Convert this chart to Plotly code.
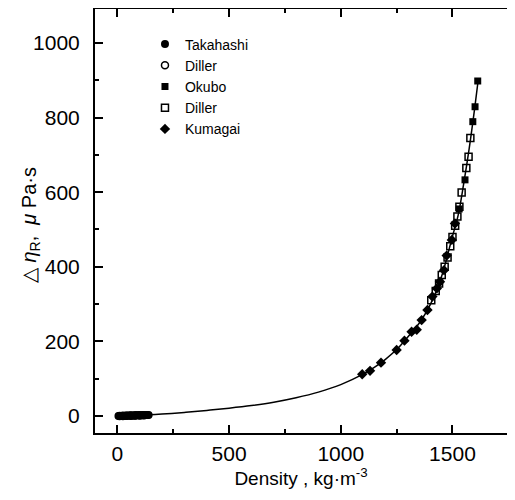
import plotly.graph_objects as go

# Correlation curve
curve_density = [0, 100, 200, 300, 400, 500, 600, 700, 800, 900, 1000, 1100, 1150, 1200, 1250,
                 1300, 1350, 1400, 1450, 1500, 1525, 1550, 1575, 1600, 1615]
curve_eta = [0, 1.5, 5, 9.5, 15, 21, 28, 37, 49, 64, 84, 112, 130, 152, 178,
             212, 248, 298, 372, 482, 537, 622, 718, 828, 900]

takahashi_density = [5, 10, 15, 20, 25, 30, 35, 40, 45, 50, 55, 60, 65, 70, 75, 80, 85, 90, 95,
                     100, 105, 110, 115, 120, 125, 130, 135, 140]
takahashi_eta = [0.1, 0.2, 0.3, 0.4, 0.5, 0.6, 0.7, 0.8, 0.9, 1.0, 1.1, 1.2, 1.3, 1.4, 1.5, 1.6, 1.7, 1.8, 1.9,
                 2.0, 2.1, 2.2, 2.3, 2.4, 2.5, 2.6, 2.7, 2.8]

diller1_density = [10, 25, 40, 60, 80, 100, 120]
diller1_eta = [0.1, 0.3, 0.5, 0.8, 1.1, 1.4, 1.8]

okubo_density = [1530, 1556, 1591, 1601, 1613]
okubo_eta = [555, 633, 789, 829, 898]

diller2_density = [1405, 1425, 1440, 1452, 1465, 1478, 1490, 1500, 1512, 1522, 1531, 1541, 1562, 1572, 1580]
diller2_eta = [310, 335, 355, 378, 400, 425, 455, 480, 510, 535, 561, 599, 665, 695, 745]

kumagai_density = [1096, 1131, 1180, 1250, 1285, 1317, 1340, 1362, 1388, 1410, 1430, 1444, 1462, 1474, 1497, 1511]
kumagai_eta = [112, 121, 143, 177, 202, 226, 231, 257, 284, 320, 342, 360, 391, 430, 472, 516]

FONT = "Liberation Sans, Arial, sans-serif"

fig = go.Figure()
fig.add_trace(go.Scatter(x=curve_density, y=curve_eta, mode="lines", line=dict(color="black", width=1.5, shape="spline"),
                         showlegend=False, hoverinfo="skip"))
fig.add_trace(go.Scatter(x=takahashi_density, y=takahashi_eta, mode="markers", name="Takahashi",
                         marker=dict(symbol="circle", size=8, color="black")))
fig.add_trace(go.Scatter(x=diller1_density, y=diller1_eta, mode="markers", name="Diller",
                         marker=dict(symbol="circle-open", size=7, color="black", line=dict(width=1.5))))
fig.add_trace(go.Scatter(x=okubo_density, y=okubo_eta, mode="markers", name="Okubo",
                         marker=dict(symbol="square", size=7, color="black")))
fig.add_trace(go.Scatter(x=diller2_density, y=diller2_eta, mode="markers", name="Diller",
                         marker=dict(symbol="square-open", size=7, color="black", line=dict(width=1.5))))
fig.add_trace(go.Scatter(x=kumagai_density, y=kumagai_eta, mode="markers", name="Kumagai",
                         marker=dict(symbol="diamond", size=8, color="black")))

fig.update_layout(
    width=499, height=484,
    margin=dict(l=87, r=0, t=1, b=59, autoexpand=False),
    paper_bgcolor="white", plot_bgcolor="white",
    font=dict(family=FONT, color="black", size=20),
    legend=dict(x=0.1213, y=0.954, xanchor="left", yanchor="top", bgcolor="rgba(0,0,0,0)",
                font=dict(size=14, family=FONT), tracegroupgap=0, itemwidth=30),
    annotations=[dict(text="△ <i>η</i><sub>R</sub>,  <i>μ</i> Pa·s", xref="paper", yref="paper",
                      x=-0.158, y=0.49, xanchor="center", yanchor="middle", textangle=-90,
                      showarrow=False, font=dict(size=20, family=FONT, color="black"))],
)
fig.update_xaxes(
    range=[-100, 1744], showgrid=False, zeroline=False, automargin=False,
    showline=True, linecolor="black", linewidth=2, mirror="allticks",
    ticks="inside", ticklen=8, tickwidth=1.5, tickcolor="black",
    tickvals=[0, 500, 1000, 1500],
    minor=dict(ticks="inside", ticklen=4, tickwidth=1.5, tickcolor="black", dtick=250, tick0=0, showgrid=False),
    tickfont=dict(size=21), ticklabelstandoff=1,
    title=dict(text="Density , kg·m<sup>-3</sup>", font=dict(size=19), standoff=6),
)
fig.update_yaxes(
    range=[-45.6, 1091], showgrid=False, zeroline=False, automargin=False,
    showline=True, linecolor="black", linewidth=2, mirror=False,
    ticks="inside", ticklen=8, tickwidth=1.5, tickcolor="black",
    tickvals=[0, 200, 400, 600, 800, 1000],
    minor=dict(ticks="inside", ticklen=4, tickwidth=1.5, tickcolor="black", dtick=100, tick0=0, showgrid=False),
    tickfont=dict(size=21), ticklabelstandoff=9,
)

fig.write_html("out.html")
